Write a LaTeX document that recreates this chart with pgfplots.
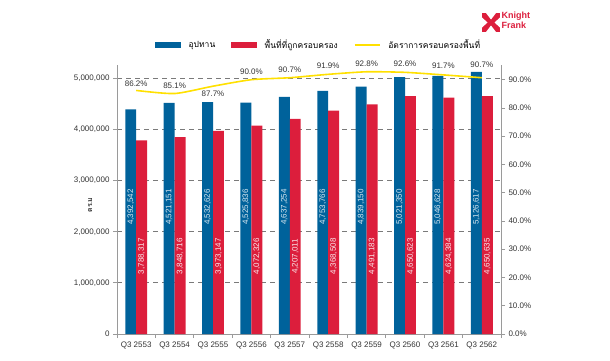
\documentclass[border=0pt]{standalone}
\usepackage{fontspec}
\setmainfont{Liberation Sans}
\newfontfamily\thaifont[Script=Thai]{Loma}
\usepackage{pgfplots}
\pgfplotsset{compat=1.18}
\definecolor{kfblue}{HTML}{00629B}
\definecolor{kfred}{HTML}{DC1E3C}
\definecolor{kfyellow}{HTML}{FFE000}
\definecolor{axgray}{HTML}{9A9A9A}
\definecolor{gridgray}{HTML}{7A7A7A}
\definecolor{txtgray}{HTML}{333333}
\begin{document}
\begin{tikzpicture}[x=1pt,y=1pt]
\useasboundingbox (0,0) rectangle (610,360);
% logo
\fill[kfred] (482,328) rectangle (500,347);
\fill[white] (486,347) -- (496,347) -- (491,340.5) -- cycle;
\fill[white] (486,328) -- (496,328) -- (491,334.5) -- cycle;
\fill[white] (482,332.5) -- (482,342.5) -- (487.5,337.5) -- cycle;
\fill[white] (500,332.5) -- (500,342.5) -- (494.5,337.5) -- cycle;
\node[anchor=north west, inner sep=0pt, text=kfred, align=left,
      font=\bfseries\fontsize{9}{9.5}\selectfont] at (501.5,348) {Knight\\Frank};
\begin{axis}[
  at={(117pt,26pt)}, anchor=south west,
  scale only axis, width=384pt, height=269pt,
  xmin=-0.5, xmax=9.5, ymin=0, ymax=5260000,
  axis x line*=bottom, axis y line*=left,
  axis line style={axgray, line width=0.8pt},
  tick align=outside, major tick length=4pt,
  tick style={axgray, line width=0.8pt},
  xtick={-0.5,0.5,...,9.5}, x tick label as interval,
  xticklabels={Q3 2553,Q3 2554,Q3 2555,Q3 2556,Q3 2557,Q3 2558,Q3 2559,Q3 2560,Q3 2561,Q3 2562},
  ytick={0,1000000,2000000,3000000,4000000,5000000},
  scaled y ticks=false,
  /pgf/number format/assume math mode=true,
  yticklabel style={/pgf/number format/.cd, fixed, 1000 sep={,}},
  ticklabel style={font=\fontsize{8}{9.6}\selectfont, text=txtgray},
  ymajorgrids,
  major grid style={gridgray, line width=0.8pt, dash pattern=on 5pt off 4pt},
  ylabel={\thaifont\bfseries ตร.ม},
  ylabel style={at={(axis description cs:-0.07,0.48)}, anchor=center, font=\fontsize{7}{8}\selectfont, text=txtgray},
  clip=false,
]
\addplot[ybar, bar width=0.285, bar shift=-0.1425, fill=kfblue, draw=none] coordinates {
 (0,4392542) (1,4521151) (2,4532626) (3,4525836) (4,4637254)
 (5,4753766) (6,4839150) (7,5021350) (8,5046628) (9,5126617)};
\addplot[ybar, bar width=0.285, bar shift=0.1425, fill=kfred, draw=none] coordinates {
 (0,3788317) (1,3848716) (2,3973147) (3,4072326) (4,4207011)
 (5,4368508) (6,4491183) (7,4650623) (8,4624384) (9,4650635)};
% value labels inside bars
\addplot[draw=none, mark=none, nodes near coords, point meta=explicit symbolic,
  nodes near coords style={rotate=90, anchor=center, text=white!85!kfblue, font=\fontsize{8}{9.6}\selectfont}]
 coordinates {
 (-0.1425,2480000) [4,392,542] (0.8575,2480000) [4,521,151] (1.8575,2480000) [4,532,626]
 (2.8575,2480000) [4,525,836] (3.8575,2480000) [4,637,254] (4.8575,2480000) [4,753,766]
 (5.8575,2480000) [4,839,150] (6.8575,2480000) [5,021,350] (7.8575,2480000) [5,046,628]
 (8.8575,2480000) [5,126,617]};
\addplot[draw=none, mark=none, nodes near coords, point meta=explicit symbolic,
  nodes near coords style={rotate=90, anchor=center, text=white!90!kfred, font=\fontsize{8}{9.6}\selectfont}]
 coordinates {
 (0.1425,1520000) [3,788,317] (1.1425,1520000) [3,848,716] (2.1425,1520000) [3,973,147]
 (3.1425,1520000) [4,072,326] (4.1425,1520000) [4,207,011] (5.1425,1520000) [4,368,508]
 (6.1425,1520000) [4,491,183] (7.1425,1520000) [4,650,623] (8.1425,1520000) [4,624,384]
 (9.1425,1520000) [4,650,635]};
\end{axis}
\begin{axis}[
  at={(117pt,26pt)}, anchor=south west,
  scale only axis, width=384pt, height=269pt,
  xmin=-0.5, xmax=9.5, ymin=0, ymax=95.2,
  axis x line=none, axis y line*=right,
  axis line style={axgray, line width=0.8pt},
  tick align=outside, major tick length=4pt,
  tick style={axgray, line width=0.8pt},
  ytick={0,10,20,30,40,50,60,70,80,90},
  yticklabel={\pgfmathprintnumber[fixed,fixed zerofill,precision=1,assume math mode=true]{\tick}\%},
  ticklabel style={font=\fontsize{8}{9.6}\selectfont, text=txtgray},
  legend style={at={(axis description cs:0.099,1.074)}, anchor=west, draw=none, fill=none,
    legend columns=-1, inner sep=0pt, font=\thaifont\fontsize{8.5}{10}\selectfont, text=black,
    /tikz/every odd column/.append style={column sep=6pt},
    /tikz/every even column/.append style={column sep=14pt}},
  clip=false,
]
\addlegendimage{legend image code/.code={\fill[kfblue] (0pt,-2.5pt) rectangle (25pt,2.5pt);}}
\addlegendentry{อุปทาน}
\addlegendimage{legend image code/.code={\fill[kfred] (0pt,-2.5pt) rectangle (25pt,2.5pt);}}
\addlegendentry{พื้นที่ที่ถูกครอบครอง}
\addplot[kfyellow, line width=1.6pt, smooth, tension=0.4,
  legend image code/.code={\draw[kfyellow, line width=1.5pt] (0pt,0pt) -- (25pt,0pt);}]
 coordinates {(0,86.2) (1,85.1) (2,87.7) (3,90.0) (4,90.7) (5,91.9) (6,92.8) (7,92.6) (8,91.7) (9,90.7)};
\addlegendentry{อัตราการครอบครองพื้นที่}
\addplot[draw=none, mark=none, nodes near coords, point meta=explicit symbolic,
  nodes near coords style={anchor=center, text=txtgray, font=\fontsize{8}{9.6}\selectfont}, forget plot]
 coordinates {(0,88.7) [86.2\%] (1,87.9) [85.1\%] (2,85.1) [87.7\%] (3,92.8) [90.0\%] (4,93.6) [90.7\%]
  (5,95.0) [91.9\%] (6,95.5) [92.8\%] (7,95.5) [92.6\%] (8,94.8) [91.7\%] (9,95.4) [90.7\%]};
\end{axis}
\end{tikzpicture}
\end{document}
